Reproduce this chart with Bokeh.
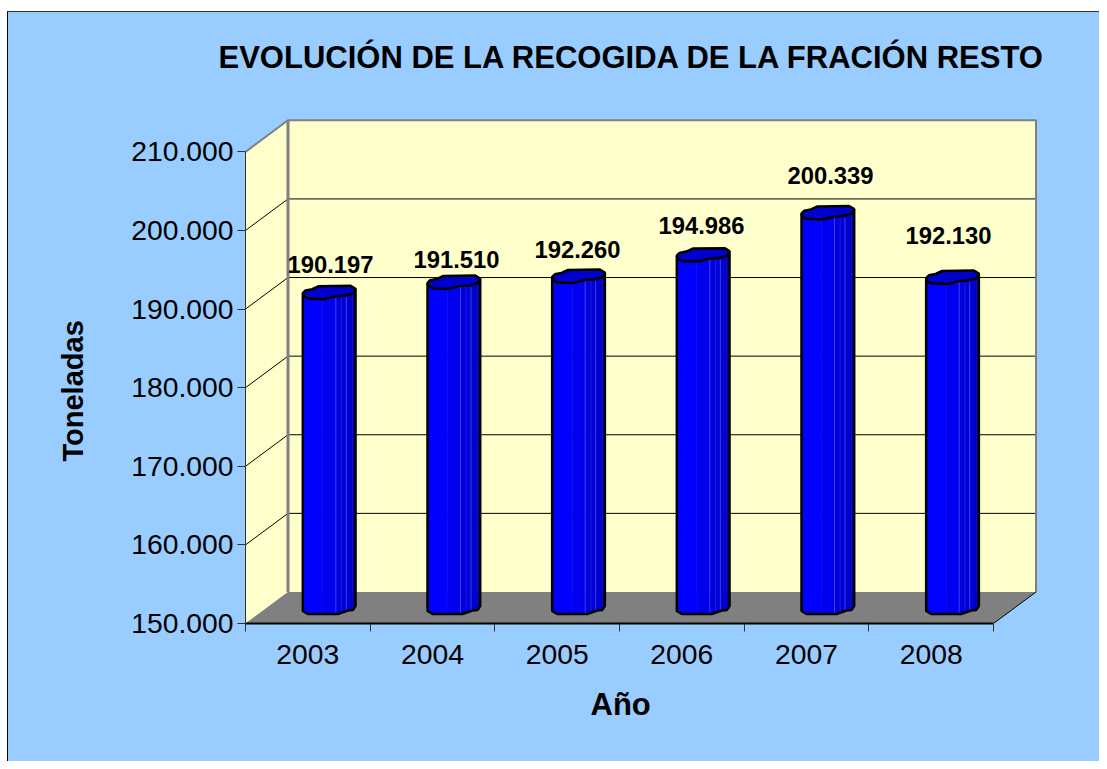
from bokeh.plotting import figure
from bokeh.embed import file_html
from bokeh.resources import INLINE
from bokeh.models import FixedTicker, ColumnDataSource, Title
from bokeh.core.properties import value
import numpy as np

# ---- data ----
years = ["2003", "2004", "2005", "2006", "2007", "2008"]
tons = [190197, 191510, 192260, 194986, 200339, 192130]
tick_values = [150000, 160000, 170000, 180000, 190000, 200000, 210000]
tick_labels = ["150.000", "160.000", "170.000", "180.000", "190.000", "200.000", "210.000"]
title_text = "EVOLUCIÓN DE LA RECOGIDA DE LA FRACIÓN RESTO"
y_title = "Toneladas"
x_title = "Año"
value_labels = ["190.197", "191.510", "192.260", "194.986", "200.339", "192.130"]

# ---- layout constants (screen px, in picture coordinates) ----
FIG_W, FIG_H = 1092, 750
AX_LEFT, AX_RIGHT, AX_BOTTOM, AX_TOP = 245.0, 993.0, 622.5, 151.3
FIG_X, FIG_Y = 8, 12
FRAME_TOP = 100
DEPTH_X, DEPTH_Y = 42.5, 31.5
BAR_SHIFT_Y = 10.0
n = len(years)
ppx = (AX_RIGHT - AX_LEFT) / n                # px per category
ppy = (AX_BOTTOM - AX_TOP) / (tick_values[-1] - tick_values[0])  # px per tonne
ux = lambda px: px / ppx
uy = lambda px: px / ppy
Y0, Y1 = tick_values[0], tick_values[-1]
BG = "#99CCFF"

p = figure(
    width=FIG_W, height=FIG_H, output_backend="svg", toolbar_location=None,
    x_range=(0, ux(FIG_X + FIG_W - AX_LEFT)),
    y_range=(Y0, Y0 + uy(AX_BOTTOM - FRAME_TOP)),
    min_border_left=int(AX_LEFT - FIG_X), min_border_right=0,
    min_border_top=int(FRAME_TOP - FIG_Y), min_border_bottom=int(FIG_Y + FIG_H - AX_BOTTOM),
    border_fill_color=BG, background_fill_color=BG, outline_line_color=None,
    margin=(11, 0, 0, 7),
    styles={"background": BG, "border-left": "1px solid #000", "border-top": "1px solid #333"},
)
p.grid.visible = False

# ---- walls ----
dx, dy = ux(DEPTH_X), uy(DEPTH_Y)
WALL, GREY = "#FFFFCC", "#808080"
p.patch([0, dx, dx, 0], [Y0, Y0 + dy, Y1 + dy, Y1], fill_color=WALL, line_color=None)
p.patch([dx, n + dx, n + dx, dx], [Y0 + dy, Y0 + dy, Y1 + dy, Y1 + dy], fill_color=WALL, line_color=None)
p.patch([0, n, n + dx, dx], [Y0, Y0, Y0 + dy, Y0 + dy], fill_color=GREY, line_color=None)

# gridlines on walls
inner = tick_values[1:-1]
p.multi_line([[0, dx, n + dx] for _ in inner],
             [[t, t + dy, t + dy] for t in inner], line_color="#000000", line_width=1)
# wall edges
p.line([0, dx, n + dx, n + dx], [Y1, Y1 + dy, Y1 + dy, Y0 + dy], line_color=GREY, line_width=2)
p.line([dx, dx], [Y0 + dy, Y1 + dy], line_color=GREY, line_width=3)
p.line([n, n + dx], [Y0, Y0 + dy], line_color="#000000", line_width=1)

# ---- columns ----
cap_shape = [(0, -4.3), (2.7, -7), (9.4, -8.3), (16, -11.3), (47.7, -11.7), (52.7, -8.7),
             (51, -4.3), (42.7, -2), (32.7, -1.3), (21, 1.7), (6, 1.3), (1, -1)]
foot_shape = [(0, -3), (5, 0), (35, 0), (45, -3.5), (50, -4), (52.7, -8)]
strips = [(0, 20, "#0000FF"), (20, 33, "#0000EE"), (33, 43.5, "#0000D8"),
          (43.5, 50, "#0000CC"), (50, 52.7, "#0000A8")]
highlights = [(33, "#3A3AFF"), (38.7, "#1A1AE8"), (43.5, "#3A3AF0")]
CAP_FILL = "#0000CC"
foot_x = [a for a, _ in foot_shape]
foot_y = [b for _, b in foot_shape]
base_px = 9.5
foot_at = lambda d: float(np.interp(d, foot_x, foot_y))

for i, v in enumerate(tons):
    left = i + 0.5 + ux(-5.0)
    top = v + uy(BAR_SHIFT_Y)
    base = Y0 + uy(base_px)
    for a, b, c in strips:
        ds = np.linspace(a, b, 6)
        xs = [left + ux(a), left + ux(b)] + [left + ux(d) for d in ds[::-1]]
        ys = [top + uy(5), top + uy(5)] + [base - uy(foot_at(d)) for d in ds[::-1]]
        p.patch(xs, ys, fill_color=c, line_color=c, line_width=0.5)
    for d, c in highlights:
        p.line([left + ux(d)] * 2, [top, base - uy(foot_at(d))], line_color=c, line_width=1)
    # outline of body
    ox = [left, left] + [left + ux(a) for a in foot_x] + [left + ux(52.7)]
    oy = [top + uy(4), base - uy(foot_y[0])] + [base - uy(b) for b in foot_y] + [top + uy(8.7)]
    p.line(ox, oy, line_color="#000000", line_width=2.5)
    # cap
    p.patch([left + ux(a) for a, _ in cap_shape], [top - uy(b) for _, b in cap_shape],
            fill_color=CAP_FILL, line_color="#000000", line_width=2.5)

# ---- value labels ----
lab = ColumnDataSource(dict(
    x=[i + 0.5 for i in range(n)], y=tons, text=value_labels,
    xo=[22.7, 24, 20.3, 19.7, 24, 17.3],
    yo=[-43.5, -37.6, -41.7, -44, -52, -56.6],
))
FONT = "Liberation Sans"
p.text("x", "y", text="text", source=lab, x_offset="xo", y_offset="yo",
       text_font=value(FONT), text_font_style="bold", text_font_size="23.8px",
       text_color="#000000", text_align="center", text_baseline="middle")

# ---- axes ----
ya = p.yaxis[0]
ya.ticker = FixedTicker(ticks=tick_values)
ya.major_label_overrides = dict(zip(tick_values, tick_labels))
ya.bounds = (Y0, Y1)
ya.major_tick_in = 0; ya.major_tick_out = 8; ya.minor_tick_line_color = None
ya.major_tick_line_color = "#333333"; ya.axis_line_color = "#333333"
ya.major_label_text_font = FONT; ya.major_label_text_font_size = "28.3px"; ya.major_label_text_color = "#000000"
ya.major_label_standoff = 4

xa = p.xaxis[0]
xa.ticker = FixedTicker(ticks=[i + 0.5 for i in range(n)], minor_ticks=list(range(n + 1)))
xa.major_label_overrides = {i + 0.5: y for i, y in enumerate(years)}
xa.bounds = (0, n)
xa.major_tick_line_color = None; xa.major_tick_in = 0; xa.major_tick_out = 0
xa.minor_tick_in = 0; xa.minor_tick_out = 8; xa.minor_tick_line_color = "#333333"
xa.axis_line_color = "#000000"; xa.axis_line_width = 2
xa.major_label_text_font = FONT; xa.major_label_text_font_size = "28.3px"; xa.major_label_text_color = "#000000"
xa.major_label_standoff = 13

# axis titles placed on the axis extent
p.add_layout(Title(text=x_title, align="left", offset=345, standoff=37, text_font=FONT, text_font_size="31px",
                   text_font_style="bold", text_color="#000000"), "below")
p.add_layout(Title(text=y_title, align="left", offset=162, standoff=79, text_font=FONT, text_font_size="29px",
                   text_font_style="bold", text_color="#000000"), "left")

# ---- title ----
p.title.text = title_text
p.title.text_font = FONT; p.title.text_font_size = "31px"; p.title.text_font_style = "bold"
p.title.text_color = "#000000"; p.title.align = "left"; p.title.offset = -27; p.title.standoff = 51

open("out.html", "w").write(file_html(p, INLINE))
